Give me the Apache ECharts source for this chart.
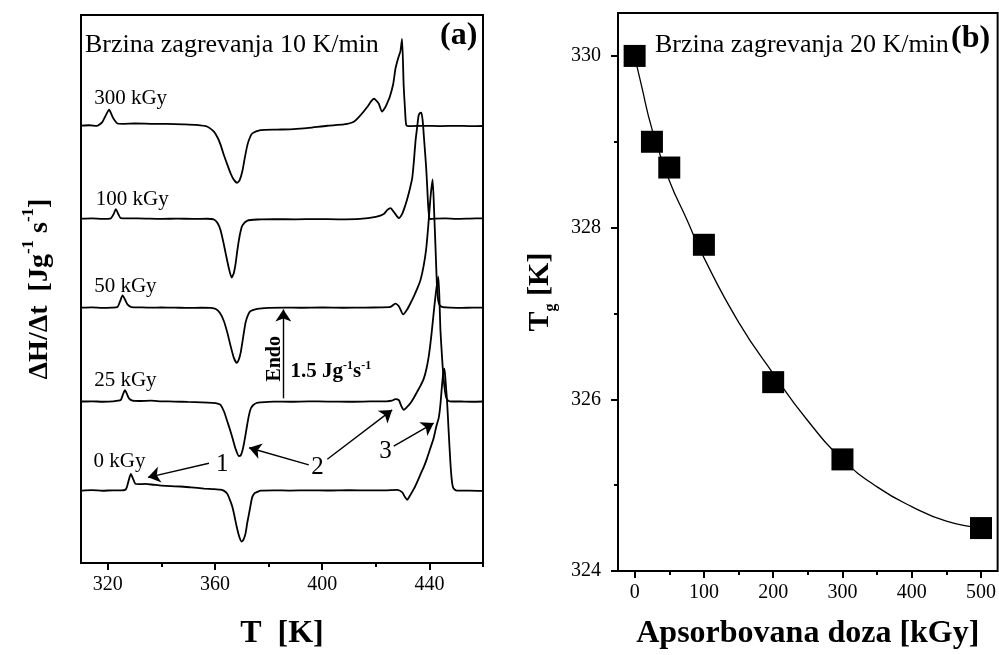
<!DOCTYPE html>
<html>
<head>
<meta charset="utf-8">
<script src="https://cdn.jsdelivr.net/npm/echarts@6/dist/echarts.min.js"></script>
<style>
html,body{margin:0;padding:0;background:#fff;}
#c{width:999px;height:655px;}
</style>
</head>
<body>
<div id="c"></div>
<script>
// ---------- DATA: panel (a) DSC curves [T (K), dH/dt (J g^-1 s^-1, shifted)] ----------
const dose0 = [[310.3,1.245],[314,1.252],[318,1.242],[322,1.250],[325,1.248],[326.8,1.27],[327.8,1.42],[328.6,1.53],[329.4,1.45],[330.3,1.36],[331.5,1.355],[334,1.36],[337,1.345],[340,1.33],[343.5,1.32],[347,1.315],[351,1.30],[355.9,1.28],[359.5,1.27],[362,1.26],[363.4,1.24],[364.6,1.188],[365.6,1.08],[366.5,0.962],[367.3,0.80],[368.1,0.623],[369.0,0.46],[369.9,0.368],[370.6,0.40],[371.4,0.509],[372.0,0.68],[372.7,0.849],[373.3,1.00],[373.9,1.132],[374.8,1.20],[375.8,1.222],[377,1.245],[382,1.25],[388,1.245],[395,1.25],[402,1.246],[410,1.252],[418,1.248],[424,1.25],[428.0,1.256],[429.8,1.217],[430.8,1.14],[431.7,1.087],[432.9,1.17],[434.2,1.273],[435.5,1.40],[436.7,1.528],[438,1.66],[439.2,1.812],[440.4,1.98],[441.6,2.15],[442.6,2.35],[443.5,2.50],[444.1,2.72],[444.7,3.05],[445.2,3.28],[445.6,3.34],[446.0,3.15],[446.6,2.773],[447.2,2.25],[447.8,1.754],[448.3,1.45],[448.8,1.302],[449.5,1.26],[450.3,1.244],[455,1.245],[460,1.24]];
const dose25 = [[310.3,2.776],[314,2.78],[318,2.772],[322,2.778],[324.8,2.80],[325.6,2.89],[326.4,2.97],[327.2,2.90],[327.9,2.83],[329.2,2.79],[332,2.785],[336,2.79],[340,2.78],[345,2.775],[350,2.768],[355,2.762],[359,2.752],[361,2.74],[362.1,2.716],[363.4,2.60],[364.6,2.433],[365.6,2.29],[366.5,2.151],[367.7,1.96],[368.9,1.839],[369.6,1.85],[370.2,1.924],[370.8,2.05],[371.4,2.207],[372.1,2.40],[372.7,2.547],[373.4,2.66],[374.3,2.716],[375.5,2.75],[377.0,2.762],[382,2.775],[388,2.772],[395,2.778],[402,2.775],[410,2.772],[418,2.778],[424,2.78],[426,2.79],[427.3,2.818],[428.6,2.80],[429.5,2.70],[430.4,2.631],[431.6,2.68],[432.9,2.745],[434.2,2.84],[435.4,2.942],[436.7,3.05],[437.9,3.17],[438.9,3.34],[439.8,3.565],[440.7,3.90],[441.6,4.30],[442.5,4.68],[443.3,4.924],[443.7,4.60],[444.1,4.019],[444.7,3.55],[445.3,3.17],[445.9,2.93],[446.4,2.83],[447.5,2.78],[452,2.776],[456,2.772],[460,2.776]];
const dose50 = [[310.3,4.389],[314,4.395],[318,4.385],[321.5,4.39],[323.6,4.40],[324.6,4.50],[325.5,4.60],[326.4,4.53],[327.4,4.44],[328.8,4.40],[332,4.395],[336,4.39],[340,4.392],[345,4.39],[350,4.385],[355,4.388],[358.5,4.385],[360.3,4.365],[361.8,4.30],[363.3,4.16],[364.6,3.96],[365.8,3.735],[367.0,3.53],[368.1,3.441],[368.9,3.50],[369.6,3.621],[370.5,3.88],[371.4,4.131],[372.3,4.26],[373.3,4.33],[375.8,4.369],[380,4.385],[386,4.39],[392,4.388],[400,4.392],[408,4.388],[416,4.39],[422,4.395],[425.5,4.402],[427.3,4.46],[428.6,4.414],[430.2,4.273],[431.7,4.358],[433.0,4.47],[434.2,4.584],[435.5,4.72],[436.7,4.867],[437.9,5.12],[438.8,5.40],[439.5,5.75],[440.4,6.28],[441.2,6.593],[441.8,6.0],[442.3,5.4],[442.9,4.70],[443.6,4.45],[444.7,4.402],[448,4.39],[452,4.385],[456,4.39],[460,4.389]];
const dose100 = [[310.3,5.92],[314,5.925],[318,5.915],[321.1,5.925],[322.2,6.00],[323.0,6.083],[323.9,6.00],[324.8,5.93],[328,5.925],[334,5.92],[340,5.915],[346,5.92],[352,5.915],[357,5.918],[359.6,5.905],[361,5.84],[362.1,5.717],[363.1,5.52],[364.0,5.319],[365.1,5.08],[366.2,4.907],[367.0,4.98],[367.7,5.149],[368.3,5.36],[368.9,5.547],[369.6,5.71],[370.2,5.801],[372.1,5.886],[376,5.905],[382,5.91],[390,5.908],[398,5.912],[406,5.908],[414,5.915],[420,5.95],[423.0,5.998],[424.3,6.07],[425.5,6.10],[426.8,6.03],[428.6,5.93],[429.8,5.998],[430.8,6.12],[431.7,6.253],[432.7,6.43],[433.6,6.621],[434.2,6.90],[434.8,7.244],[435.4,7.48],[436.0,7.696],[436.6,7.74],[437.0,7.742],[437.5,7.60],[437.9,7.357],[438.4,7.05],[438.8,6.791],[439.2,6.45],[439.5,6.168],[439.8,6.00],[440.1,5.913],[442,5.92],[446,5.925],[450,5.915],[455,5.92],[460,5.925]];
const dose300 = [[310.3,7.52],[313,7.525],[316,7.515],[318.0,7.584],[319.3,7.70],[320.5,7.793],[321.3,7.72],[322.1,7.640],[323.6,7.555],[326,7.55],[330,7.555],[336,7.55],[342,7.548],[348,7.54],[353,7.53],[357.2,7.499],[359.6,7.414],[361,7.31],[362.1,7.187],[363.4,7.00],[364.6,6.847],[365.8,6.70],[367.0,6.59],[368.3,6.536],[369.2,6.58],[370.2,6.735],[371.1,6.96],[372.1,7.187],[373.0,7.31],[373.9,7.385],[377.0,7.441],[383,7.45],[389.4,7.458],[395,7.48],[401.9,7.516],[408.1,7.538],[411.8,7.584],[414.3,7.697],[416.8,7.839],[418.3,7.94],[419.3,7.980],[420.2,7.95],[421.1,7.895],[422.3,7.76],[423.6,7.839],[424.4,7.92],[425.2,8.009],[426.5,8.234],[427.3,8.489],[428.0,8.62],[428.6,8.715],[429.2,8.80],[429.8,9.010],[430.4,8.205],[430.9,7.80],[431.4,7.526],[433,7.51],[438,7.515],[444,7.51],[450,7.515],[455,7.51],[460,7.512]];
const doseLabels = ['300 kGy', '100 kGy', '50 kGy', '25 kGy', '0 kGy'];
const xTicksA = [320, 360, 400, 440];
const xMinorA = [340, 380, 420, 460];

// ---------- DATA: panel (b) Tg vs absorbed dose ----------
const doseB = [0, 25, 50, 100, 200, 300, 500];
const tgB = [330.0, 329.0, 328.7, 327.8, 326.2, 325.3, 324.5];
const fitDose = [0, 10, 25, 50, 75, 100, 150, 200, 250, 300, 350, 400, 450, 500];
const fitTg = [330.0, 329.65, 329.15, 328.55, 328.1, 327.65, 326.9, 326.3, 325.75, 325.3, 324.98, 324.75, 324.58, 324.5];
const xTicksB = [0, 100, 200, 300, 400, 500];
const xMinorB = [50, 150, 250, 350, 450];
const yTicksB = [324, 326, 328, 330];
const yMinorB = [325, 327, 329];

// ---------- CHART ----------
const FONT = '"Liberation Serif", "Times New Roman", serif';
const chart = echarts.init(document.getElementById('c'), null, {renderer: 'canvas'});
const black = '#000';

function curve(data) {
  return {
    type: 'line', xAxisIndex: 0, yAxisIndex: 0, data: data,
    showSymbol: false, symbol: 'none', smooth: 0.2,
    lineStyle: {color: black, width: 1.8, opacity: 1}, silent: true, z: 3
  };
}
function arrow(p, q) {
  return [{coord: p}, {coord: q}];
}
const leftCurves = [dose300, dose100, dose50, dose25, dose0];
const dosePos = [[314.9, 7.99], [315.5, 6.253], [314.9, 4.754], [314.9, 3.141], [314.7, 1.737]];

const lbl = (extra) => Object.assign({show: true, fontFamily: FONT, color: black, opacity: 1}, extra);
const textItems = doseLabels.map((t, i) => ({
  value: dosePos[i], name: t,
  label: lbl({position: 'right', distance: 0, formatter: t, fontSize: 21})
}));
textItems.push(
  {value: [362.75, 1.70], label: lbl({position: 'inside', formatter: '1', fontSize: 25})},
  {value: [398.2, 1.642], label: lbl({position: 'inside', formatter: '2', fontSize: 25})},
  {value: [423.6, 1.924], label: lbl({position: 'inside', formatter: '3', fontSize: 25})},
  {value: [382.4, 3.51], label: lbl({position: 'inside', rotate: 90, formatter: 'Endo', fontSize: 20, fontWeight: 'bold'})},
  {value: [388.2, 3.311], label: lbl({position: 'right', distance: 0,
    formatter: '{b|1.5 Jg}{s|-1}{b|s}{s|-1}',
    rich: {
      b: {fontSize: 21, fontWeight: 'bold', fontFamily: FONT, color: black, lineHeight: 24, verticalAlign: 'bottom'},
      s: {fontSize: 12, fontWeight: 'bold', fontFamily: FONT, color: black, lineHeight: 12, verticalAlign: 'top', padding: [2, 0, 0, 0]}
    }})}
);

const noLine = {show: false, onZero: false};

const option = {
  animation: false,
  backgroundColor: '#fff',
  title: [
    {text: 'Brzina zagrevanja 10 K/min', left: 85, top: 32, padding: 0,
     textStyle: {fontFamily: FONT, fontSize: 26, fontWeight: 'normal', color: black}},
    {text: '(a)', left: 440, top: 20, padding: 0,
     textStyle: {fontFamily: FONT, fontSize: 32, fontWeight: 'bold', color: black}},
    {text: 'Brzina zagrevanja 20 K/min', left: 655, top: 32, padding: 0,
     textStyle: {fontFamily: FONT, fontSize: 26, fontWeight: 'normal', color: black}},
    {text: '(b)', left: 951, top: 23, padding: 0,
     textStyle: {fontFamily: FONT, fontSize: 32, fontWeight: 'bold', color: black}}
  ],
  grid: [
    {left: 81, right: 516, top: 15, bottom: 85, show: true, borderColor: black, borderWidth: 2, backgroundColor: 'transparent', containLabel: false},
    {left: 618, right: 1, top: 13, bottom: 83, show: true, borderColor: black, borderWidth: 2, backgroundColor: 'transparent', containLabel: false}
  ],
  xAxis: [
    {type: 'value', gridIndex: 0, min: 310, max: 460, position: 'bottom',
     name: 'T  [K]', nameLocation: 'middle', nameGap: 55,
     nameTextStyle: {fontFamily: FONT, fontSize: 32, fontWeight: 'bold', color: black},
     axisLine: noLine,
     axisTick: {show: true, inside: false, length: 7, customValues: xTicksA, lineStyle: {color: black, width: 2}},
     axisLabel: {show: true, customValues: xTicksA, margin: 12, fontFamily: FONT, fontSize: 20, color: black},
     splitLine: {show: false}},
    {type: 'value', gridIndex: 0, min: 310, max: 460, position: 'bottom',
     axisLine: noLine,
     axisTick: {show: true, inside: false, length: 4, customValues: xMinorA, lineStyle: {color: black, width: 2}},
     axisLabel: {show: false}, splitLine: {show: false}},
    {type: 'value', gridIndex: 1, min: -24, max: 524, position: 'bottom',
     name: 'Apsorbovana doza [kGy]', nameLocation: 'middle', nameGap: 47,
     nameTextStyle: {fontFamily: FONT, fontSize: 32, fontWeight: 'bold', color: black},
     axisLine: noLine,
     axisTick: {show: true, inside: false, length: 7, customValues: xTicksB, lineStyle: {color: black, width: 2}},
     axisLabel: {show: true, customValues: xTicksB, margin: 12, fontFamily: FONT, fontSize: 20, color: black},
     splitLine: {show: false}},
    {type: 'value', gridIndex: 1, min: -24, max: 524, position: 'bottom',
     axisLine: noLine,
     axisTick: {show: true, inside: false, length: 4, customValues: xMinorB, lineStyle: {color: black, width: 2}},
     axisLabel: {show: false}, splitLine: {show: false}}
  ],
  yAxis: [
    {type: 'value', gridIndex: 0, min: 0, max: 9.42, position: 'left',
     name: '{b|ΔH/Δt  [Jg}{s|-1}{b| s}{s|-1}{b|]}', nameLocation: 'middle', nameGap: 27,
     nameTextStyle: {
       rich: {
         b: {fontFamily: FONT, fontSize: 28, fontWeight: 'bold', color: black, lineHeight: 34, verticalAlign: 'bottom'},
         s: {fontFamily: FONT, fontSize: 17, fontWeight: 'bold', color: black, lineHeight: 17, verticalAlign: 'top'}
       }
     },
     axisLine: noLine, axisTick: {show: false}, axisLabel: {show: false}, splitLine: {show: false}},
    {type: 'value', gridIndex: 1, min: 324, max: 330.5, position: 'left',
     name: '{b|T}{g|g}{b| [K]}', nameLocation: 'middle', nameGap: 59,
     nameTextStyle: {
       rich: {
         b: {fontFamily: FONT, fontSize: 30, fontWeight: 'bold', color: black, lineHeight: 34, verticalAlign: 'top'},
         g: {fontFamily: FONT, fontSize: 16, fontWeight: 'bold', color: black, lineHeight: 16, verticalAlign: 'bottom'}
       }
     },
     axisLine: noLine,
     axisTick: {show: true, inside: false, length: 7, customValues: yTicksB, lineStyle: {color: black, width: 2}},
     axisLabel: {show: true, customValues: yTicksB, margin: 17, fontFamily: FONT, fontSize: 20, color: black},
     splitLine: {show: false}},
    {type: 'value', gridIndex: 1, min: 324, max: 330.5, position: 'left',
     axisLine: noLine,
     axisTick: {show: true, inside: false, length: 4, customValues: yMinorB, lineStyle: {color: black, width: 2}},
     axisLabel: {show: false}, splitLine: {show: false}}
  ],
  series: [
    ...leftCurves.map(curve),
    {
      type: 'line', xAxisIndex: 0, yAxisIndex: 0, data: [], silent: true,
      markLine: {
        silent: true, symbol: ['none', 'arrow'], symbolSize: 12,
        label: {show: false},
        lineStyle: {color: black, width: 1.4, type: 'solid', opacity: 1},
        itemStyle: {color: black, opacity: 1},
        emphasis: {disabled: true},
        animation: false,
        data: [
          arrow([357.75, 1.715], [335.0, 1.472]),
          arrow([395.0, 1.686], [372.7, 1.981]),
          arrow([401.9, 1.783], [426.1, 2.632]),
          arrow([426.7, 2.008], [441.6, 2.406]),
          arrow([385.5, 2.83], [385.5, 4.358])
        ]
      }
    },
    {
      type: 'scatter', xAxisIndex: 0, yAxisIndex: 0, symbolSize: 0, silent: true, z: 5,
      itemStyle: {opacity: 1, color: black},
      data: textItems
    },
    {
      type: 'line', xAxisIndex: 2, yAxisIndex: 1,
      data: fitDose.map((d, i) => [d, fitTg[i]]),
      smooth: true, showSymbol: false, symbol: 'none', silent: true,
      lineStyle: {color: black, width: 1.3, opacity: 1}, z: 2
    },
    {
      type: 'scatter', xAxisIndex: 2, yAxisIndex: 1,
      data: doseB.map((d, i) => [d, tgB[i]]),
      symbol: 'rect', symbolSize: 22, silent: true,
      itemStyle: {color: black, opacity: 1}, z: 4
    }
  ]
};
chart.setOption(option);
</script>
</body>
</html>
